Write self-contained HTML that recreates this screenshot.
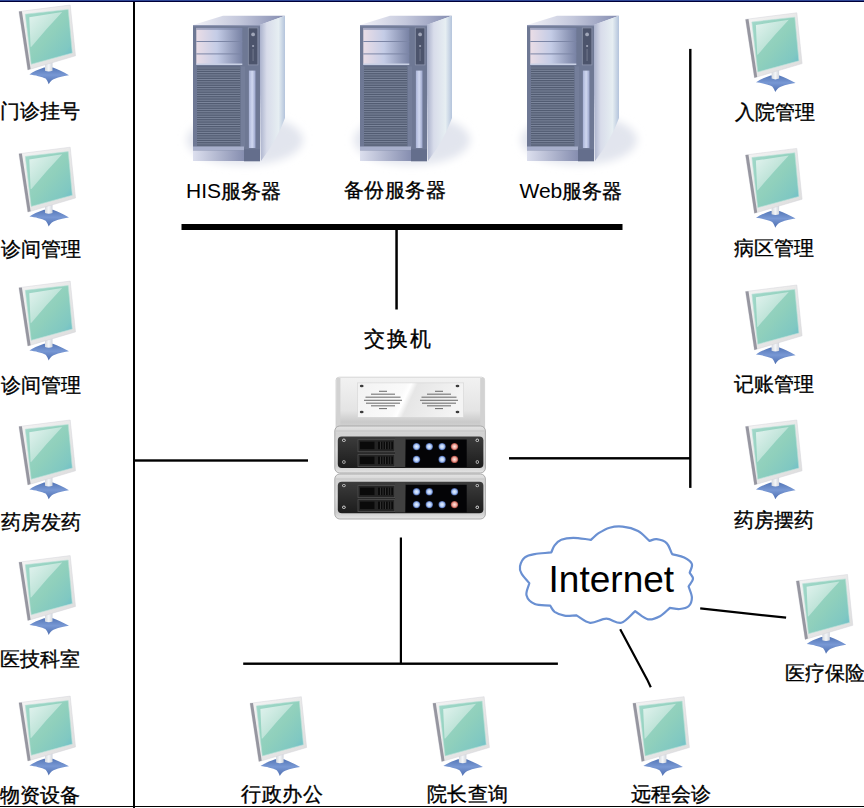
<!DOCTYPE html>
<html><head><meta charset="utf-8">
<style>
html,body{margin:0;padding:0;background:#fff;width:864px;height:808px;overflow:hidden}
svg{position:absolute;left:0;top:0}
text{font-family:"Liberation Sans",sans-serif;fill:#000}
</style></head><body>
<svg width="864" height="808" viewBox="0 0 864 808">
<defs>
<filter id="blur4" x="-30%" y="-50%" width="160%" height="200%"><feGaussianBlur stdDeviation="4"/></filter>
<filter id="blur6" x="-20%" y="-20%" width="140%" height="140%"><feGaussianBlur stdDeviation="6"/></filter>
<linearGradient id="sw_topbox" x1="0" y1="0" x2="0" y2="1">
  <stop offset="0" stop-color="#f2f2f2"/>
  <stop offset="0.6" stop-color="#e4e4e4"/>
  <stop offset="0.8" stop-color="#cacaca"/>
  <stop offset="1" stop-color="#dadada"/>
</linearGradient>
<linearGradient id="sw_plate" x1="0" y1="0" x2="1" y2="0.15">
  <stop offset="0" stop-color="#f2f2f2"/>
  <stop offset="0.45" stop-color="#fafafa"/>
  <stop offset="0.5" stop-color="#ffffff"/>
  <stop offset="0.56" stop-color="#e6e6e6"/>
  <stop offset="1" stop-color="#f4f4f4"/>
</linearGradient>
<linearGradient id="sw_silver" x1="0" y1="0" x2="0" y2="1">
  <stop offset="0" stop-color="#e4e4e4"/>
  <stop offset="0.15" stop-color="#d2d2d2"/>
  <stop offset="0.5" stop-color="#dcdcdc"/>
  <stop offset="0.85" stop-color="#cccccc"/>
  <stop offset="1" stop-color="#e6e6e6"/>
</linearGradient>
<linearGradient id="sw_dark" x1="0" y1="0" x2="0" y2="1">
  <stop offset="0" stop-color="#3c3c3c"/>
  <stop offset="1" stop-color="#1c1c1c"/>
</linearGradient>
<radialGradient id="btn_b" cx="0.5" cy="0.5" r="0.5">
  <stop offset="0" stop-color="#e8f0ff"/>
  <stop offset="0.55" stop-color="#b4ccf4"/>
  <stop offset="0.8" stop-color="#6e8ed0"/>
  <stop offset="1" stop-color="#3a4c80"/>
</radialGradient>
<radialGradient id="btn_r" cx="0.5" cy="0.5" r="0.5">
  <stop offset="0" stop-color="#ffe8e0"/>
  <stop offset="0.55" stop-color="#f0aaa0"/>
  <stop offset="0.8" stop-color="#c86a60"/>
  <stop offset="1" stop-color="#803a34"/>
</radialGradient>

<linearGradient id="scr" x1="0" y1="0" x2="1" y2="1">
  <stop offset="0" stop-color="#a2d8ca"/>
  <stop offset="0.5" stop-color="#90d0bc"/>
  <stop offset="0.8" stop-color="#80c8c2"/>
  <stop offset="1" stop-color="#64b8d0"/>
</linearGradient>
<linearGradient id="hl" x1="0" y1="0" x2="1" y2="1">
  <stop offset="0" stop-color="#ffffff" stop-opacity="0.7"/>
  <stop offset="1" stop-color="#ffffff" stop-opacity="0.12"/>
</linearGradient>
<linearGradient id="bez" x1="0" y1="0" x2="1" y2="1">
  <stop offset="0" stop-color="#f4f4f4"/>
  <stop offset="1" stop-color="#dcdcdc"/>
</linearGradient>
<linearGradient id="neck" x1="0" y1="0" x2="1" y2="0">
  <stop offset="0" stop-color="#d4d8de"/>
  <stop offset="0.5" stop-color="#f4f6f8"/>
  <stop offset="1" stop-color="#d0d4dc"/>
</linearGradient>
<linearGradient id="basg" x1="0" y1="0" x2="0" y2="1">
  <stop offset="0" stop-color="#5678b8"/>
  <stop offset="0.45" stop-color="#7898d4"/>
  <stop offset="1" stop-color="#4e6eb0"/>
</linearGradient>
<g id="mon">
  <path d="M29.4,74.4 C33,72 37.5,69.8 44,67.6 L52.9,67.6 C58,69.5 63,72 69,75.2 C65,75.8 60,76.5 53.5,79.2 C51,80.5 50,82 48.7,84.3 C47.8,82 47,80 45.6,78.6 C42,76.8 35,75 29.4,74.4 Z" fill="url(#basg)"/>
  <path d="M45,61 L52.5,60.5 L52.5,70.8 Q48.8,72.4 45,70.8 Z" fill="url(#neck)"/>
  <path d="M18.9,11.6 L70.2,5.0 L75.5,55.8 L27.8,69.9 Z" fill="url(#bez)" stroke="#d4d4da" stroke-width="0.5"/>
  <path d="M18.9,11.6 L21.9,11.3 L30.6,69.1 L27.8,69.9 Z" fill="#9696a0"/>
  <path d="M25.3,14.2 L68.2,9.4 L72.3,53 L31.2,64.2 Z" fill="url(#scr)" stroke="#b8e0d8" stroke-width="0.6"/>
  <path d="M29.3,17.2 L62.2,12 Q47,28 31.4,46.7 L30.6,46.9 Z" fill="url(#hl)"/>
</g>


<linearGradient id="sv_top" x1="0" y1="0" x2="1" y2="0">
  <stop offset="0" stop-color="#f2f2f8"/>
  <stop offset="0.5" stop-color="#c4c8dc"/>
  <stop offset="1" stop-color="#848cb0"/>
</linearGradient>
<linearGradient id="sv_side" x1="0" y1="0" x2="1" y2="0">
  <stop offset="0" stop-color="#a4acc8"/>
  <stop offset="0.3" stop-color="#d8dcea"/>
  <stop offset="0.75" stop-color="#e6eef2"/>
  <stop offset="1" stop-color="#b4c4dc"/>
</linearGradient>
<linearGradient id="sv_side_fade" x1="0" y1="0" x2="0" y2="1">
  <stop offset="0" stop-color="#ffffff" stop-opacity="0"/>
  <stop offset="0.6" stop-color="#ffffff" stop-opacity="0"/>
  <stop offset="1" stop-color="#ffffff" stop-opacity="0.9"/>
</linearGradient>
<linearGradient id="sv_bay" x1="0" y1="0" x2="1" y2="0">
  <stop offset="0" stop-color="#eadde6"/>
  <stop offset="0.45" stop-color="#c4cce6"/>
  <stop offset="1" stop-color="#7882a4"/>
</linearGradient>
<linearGradient id="sv_panel" x1="0" y1="0" x2="1" y2="0">
  <stop offset="0" stop-color="#aab4d8"/>
  <stop offset="0.5" stop-color="#d0d8f0"/>
  <stop offset="1" stop-color="#9ca6cc"/>
</linearGradient>
<linearGradient id="sv_base" x1="0" y1="0" x2="1" y2="0">
  <stop offset="0" stop-color="#dcdfee"/>
  <stop offset="1" stop-color="#868eb0"/>
</linearGradient>
<radialGradient id="sv_glow" cx="0.5" cy="0.5" r="0.5">
  <stop offset="0" stop-color="#dfe4ee"/>
  <stop offset="0.7" stop-color="#eef0f6"/>
  <stop offset="1" stop-color="#ffffff" stop-opacity="0"/>
</radialGradient>
<g id="srv">
  <ellipse cx="245" cy="140" rx="58" ry="25" fill="#e2e5ee" filter="url(#blur4)"/>
  <path d="M193,25 L223,15.8 L285,15.8 L260,25 Z" fill="url(#sv_top)"/>
  <path d="M259,25 L285,15.8 L285,118 Q277,140 261,161 Z" fill="url(#sv_side)"/>
  <rect x="193" y="25" width="67" height="136" fill="#6e7894"/>
  <rect x="193" y="25" width="67" height="1.2" fill="#9098b4"/>
  <rect x="196.3" y="27.9" width="46" height="36.6" fill="url(#sv_bay)"/>
  <rect x="196.3" y="27.9" width="46" height="2" fill="#7c86a8" opacity="0.6"/>
  <rect x="196.3" y="41" width="46" height="1" fill="#7c86a6"/>
  <rect x="196.3" y="53.4" width="46" height="1" fill="#7c86a6"/>
  <rect x="196.3" y="63.5" width="46" height="1.5" fill="#c8d0e4"/>
  <rect x="248.3" y="27.9" width="9.6" height="37" fill="#4c546c" stroke="#8c94ac" stroke-width="0.8"/>
  <circle cx="253.1" cy="34.4" r="1.9" fill="#a0a6b8"/>
  <circle cx="253.1" cy="46" r="1.1" fill="#a0a6b8"/>
  <rect x="252.5" y="49" width="1.2" height="12" fill="#6c7288"/>
  <rect x="197" y="66.5" width="43.2" height="80.5" fill="#525c72"/>
  <rect x="197" y="67.5" width="43.2" height="1" fill="#7c869c"/><rect x="197" y="69.8" width="43.2" height="1" fill="#7c869c"/><rect x="197" y="72.1" width="43.2" height="1" fill="#7c869c"/><rect x="197" y="74.4" width="43.2" height="1" fill="#7c869c"/><rect x="197" y="76.7" width="43.2" height="1" fill="#7c869c"/><rect x="197" y="79.0" width="43.2" height="1" fill="#7c869c"/><rect x="197" y="81.3" width="43.2" height="1" fill="#7c869c"/><rect x="197" y="83.6" width="43.2" height="1" fill="#7c869c"/><rect x="197" y="85.9" width="43.2" height="1" fill="#7c869c"/><rect x="197" y="88.2" width="43.2" height="1" fill="#7c869c"/><rect x="197" y="90.5" width="43.2" height="1" fill="#7c869c"/><rect x="197" y="92.8" width="43.2" height="1" fill="#7c869c"/><rect x="197" y="95.1" width="43.2" height="1" fill="#7c869c"/><rect x="197" y="97.4" width="43.2" height="1" fill="#7c869c"/><rect x="197" y="99.7" width="43.2" height="1" fill="#7c869c"/><rect x="197" y="102.0" width="43.2" height="1" fill="#7c869c"/><rect x="197" y="104.3" width="43.2" height="1" fill="#7c869c"/><rect x="197" y="106.6" width="43.2" height="1" fill="#7c869c"/><rect x="197" y="108.9" width="43.2" height="1" fill="#7c869c"/><rect x="197" y="111.2" width="43.2" height="1" fill="#7c869c"/><rect x="197" y="113.5" width="43.2" height="1" fill="#7c869c"/><rect x="197" y="115.8" width="43.2" height="1" fill="#7c869c"/><rect x="197" y="118.1" width="43.2" height="1" fill="#7c869c"/><rect x="197" y="120.4" width="43.2" height="1" fill="#7c869c"/><rect x="197" y="122.7" width="43.2" height="1" fill="#7c869c"/><rect x="197" y="125.0" width="43.2" height="1" fill="#7c869c"/><rect x="197" y="127.3" width="43.2" height="1" fill="#7c869c"/><rect x="197" y="129.6" width="43.2" height="1" fill="#7c869c"/><rect x="197" y="131.9" width="43.2" height="1" fill="#7c869c"/><rect x="197" y="134.2" width="43.2" height="1" fill="#7c869c"/><rect x="197" y="136.5" width="43.2" height="1" fill="#7c869c"/><rect x="197" y="138.8" width="43.2" height="1" fill="#7c869c"/><rect x="197" y="141.1" width="43.2" height="1" fill="#7c869c"/><rect x="197" y="143.4" width="43.2" height="1" fill="#7c869c"/><rect x="197" y="145.7" width="43.2" height="1" fill="#7c869c"/>
  <rect x="241" y="66.5" width="4" height="81" fill="#747e9a"/>
  <rect x="248.9" y="70.6" width="6.6" height="77.4" fill="url(#sv_panel)"/>
  <rect x="193" y="146.5" width="51" height="4" fill="#a8b0cc"/>
  <rect x="193" y="150.5" width="51" height="10.5" fill="url(#sv_base)"/>
  <rect x="244" y="149.4" width="16" height="11.9" fill="#646e8c"/>
</g>

</defs>
<rect x="0" y="0" width="864" height="1" fill="#304898"/>
<rect x="0" y="1" width="864" height="1" fill="#000038"/>
<rect x="133" y="2" width="2" height="806" fill="#000"/>
<rect x="0" y="806" width="864" height="1" fill="#000"/>

<use href="#srv"/>
<use href="#srv" x="167"/>
<use href="#srv" x="334"/>

<rect x="181.5" y="224" width="441" height="6" fill="#000"/>
<rect x="395.3" y="229" width="2.5" height="80.5" fill="#000"/>
<rect x="135" y="459.3" width="173" height="2.4" fill="#000"/>
<rect x="509" y="457.1" width="182" height="2.4" fill="#000"/>
<rect x="689.1" y="48.9" width="2.4" height="439" fill="#000"/>
<rect x="399.8" y="537.5" width="2.2" height="126" fill="#000"/>
<rect x="243.2" y="662.5" width="314.7" height="2.4" fill="#000"/>
<line x1="700.2" y1="608.4" x2="786.1" y2="617.7" stroke="#000" stroke-width="2.2"/>
<polyline points="620.2,629.3 647.1,679.4 650.8,687.3" fill="none" stroke="#000" stroke-width="2.2"/>


<g>
  
  <rect x="336" y="377.2" width="148.6" height="56" rx="3" fill="url(#sw_topbox)" stroke="#cccccc" stroke-width="0.8"/>
  <rect x="336.4" y="378" width="4" height="48" fill="#d2d2d2"/><rect x="480.2" y="378" width="4" height="48" fill="#d2d2d2"/>
  <rect x="357.5" y="382.9" width="106.2" height="34.4" fill="url(#sw_plate)" stroke="#d4d4d4" stroke-width="0.6"/>
  <ellipse cx="361.7" cy="386" rx="1.9" ry="1.2" fill="#3c3c3c"/><ellipse cx="361.7" cy="412" rx="1.9" ry="1.2" fill="#3c3c3c"/><ellipse cx="457.5" cy="386" rx="1.9" ry="1.2" fill="#3c3c3c"/><ellipse cx="457.5" cy="412" rx="1.9" ry="1.2" fill="#3c3c3c"/>
  <rect x="379.0" y="390.8" width="8" height="0.9" fill="#585858"/><rect x="371.0" y="393.7" width="24" height="0.9" fill="#585858"/><rect x="365.5" y="396.7" width="35" height="0.9" fill="#585858"/><rect x="364.0" y="399.8" width="38" height="0.9" fill="#585858"/><rect x="366.0" y="402.7" width="34" height="0.9" fill="#585858"/><rect x="371.0" y="405.4" width="24" height="0.9" fill="#585858"/><rect x="379.0" y="408.2" width="8" height="0.9" fill="#585858"/><rect x="435.0" y="390.8" width="8" height="0.9" fill="#585858"/><rect x="427.0" y="393.7" width="24" height="0.9" fill="#585858"/><rect x="421.5" y="396.7" width="35" height="0.9" fill="#585858"/><rect x="420.0" y="399.8" width="38" height="0.9" fill="#585858"/><rect x="422.0" y="402.7" width="34" height="0.9" fill="#585858"/><rect x="427.0" y="405.4" width="24" height="0.9" fill="#585858"/><rect x="435.0" y="408.2" width="8" height="0.9" fill="#585858"/>
  <rect x="334.8" y="426" width="150.6" height="47" rx="5" fill="url(#sw_silver)" stroke="#a4a4a4" stroke-width="0.9"/><rect x="335.5" y="430.5" width="149" height="1" fill="#c4c4c4"/><rect x="337.8" y="436.5" width="145.6" height="31.5" rx="4" fill="url(#sw_dark)"/><circle cx="343.9" cy="440.3" r="1.7" fill="#d0d0d0"/><circle cx="343.9" cy="440.3" r="0.9" fill="#202020"/><circle cx="343.9" cy="462.0" r="1.7" fill="#d0d0d0"/><circle cx="343.9" cy="462.0" r="0.9" fill="#202020"/><circle cx="477.3" cy="440.3" r="1.7" fill="#d0d0d0"/><circle cx="477.3" cy="440.3" r="0.9" fill="#202020"/><circle cx="477.3" cy="462.0" r="1.7" fill="#d0d0d0"/><circle cx="477.3" cy="462.0" r="0.9" fill="#202020"/><rect x="358" y="439.7" width="36.8" height="12" fill="#242424" stroke="#505050" stroke-width="0.8"/><rect x="360" y="441.7" width="14.5" height="7.5" fill="#0a0a0a"/><rect x="378" y="441.7" width="15" height="7.5" fill="#0a0a0a"/><rect x="380.0" y="441.7" width="0.8" height="7.5" fill="#3a3a3a"/><rect x="382.6" y="441.7" width="0.8" height="7.5" fill="#3a3a3a"/><rect x="385.2" y="441.7" width="0.8" height="7.5" fill="#3a3a3a"/><rect x="387.8" y="441.7" width="0.8" height="7.5" fill="#3a3a3a"/><rect x="390.4" y="441.7" width="0.8" height="7.5" fill="#3a3a3a"/><rect x="358" y="454.6" width="36.8" height="12" fill="#242424" stroke="#505050" stroke-width="0.8"/><rect x="360" y="456.6" width="14.5" height="7.5" fill="#0a0a0a"/><rect x="378" y="456.6" width="15" height="7.5" fill="#0a0a0a"/><rect x="380.0" y="456.6" width="0.8" height="7.5" fill="#3a3a3a"/><rect x="382.6" y="456.6" width="0.8" height="7.5" fill="#3a3a3a"/><rect x="385.2" y="456.6" width="0.8" height="7.5" fill="#3a3a3a"/><rect x="387.8" y="456.6" width="0.8" height="7.5" fill="#3a3a3a"/><rect x="390.4" y="456.6" width="0.8" height="7.5" fill="#3a3a3a"/><rect x="395" y="437.5" width="10" height="29.5" fill="#404040"/><rect x="405.7" y="439.5" width="61" height="27.5" fill="#040406"/><circle cx="416.5" cy="446.6" r="3.7" fill="url(#btn_b)"/><circle cx="429.3" cy="446.6" r="3.7" fill="url(#btn_b)"/><circle cx="442.1" cy="446.6" r="3.7" fill="url(#btn_b)"/><circle cx="454.5" cy="446.6" r="3.7" fill="url(#btn_r)"/><circle cx="416.5" cy="459.4" r="3.7" fill="url(#btn_b)"/><circle cx="442.1" cy="459.4" r="3.7" fill="url(#btn_b)"/><circle cx="454.5" cy="459.4" r="3.7" fill="url(#btn_r)"/>
  <rect x="334.8" y="474" width="150.6" height="45" rx="5" fill="url(#sw_silver)" stroke="#a4a4a4" stroke-width="0.9"/><rect x="335.5" y="478.5" width="149" height="1" fill="#c4c4c4"/><rect x="337.8" y="481.8" width="145.6" height="31.5" rx="4" fill="url(#sw_dark)"/><circle cx="343.9" cy="485.6" r="1.7" fill="#d0d0d0"/><circle cx="343.9" cy="485.6" r="0.9" fill="#202020"/><circle cx="343.9" cy="507.3" r="1.7" fill="#d0d0d0"/><circle cx="343.9" cy="507.3" r="0.9" fill="#202020"/><circle cx="477.3" cy="485.6" r="1.7" fill="#d0d0d0"/><circle cx="477.3" cy="485.6" r="0.9" fill="#202020"/><circle cx="477.3" cy="507.3" r="1.7" fill="#d0d0d0"/><circle cx="477.3" cy="507.3" r="0.9" fill="#202020"/><rect x="358" y="485.6" width="36.8" height="12" fill="#242424" stroke="#505050" stroke-width="0.8"/><rect x="360" y="487.6" width="14.5" height="7.5" fill="#0a0a0a"/><rect x="378" y="487.6" width="15" height="7.5" fill="#0a0a0a"/><rect x="380.0" y="487.6" width="0.8" height="7.5" fill="#3a3a3a"/><rect x="382.6" y="487.6" width="0.8" height="7.5" fill="#3a3a3a"/><rect x="385.2" y="487.6" width="0.8" height="7.5" fill="#3a3a3a"/><rect x="387.8" y="487.6" width="0.8" height="7.5" fill="#3a3a3a"/><rect x="390.4" y="487.6" width="0.8" height="7.5" fill="#3a3a3a"/><rect x="358" y="499.6" width="36.8" height="12" fill="#242424" stroke="#505050" stroke-width="0.8"/><rect x="360" y="501.6" width="14.5" height="7.5" fill="#0a0a0a"/><rect x="378" y="501.6" width="15" height="7.5" fill="#0a0a0a"/><rect x="380.0" y="501.6" width="0.8" height="7.5" fill="#3a3a3a"/><rect x="382.6" y="501.6" width="0.8" height="7.5" fill="#3a3a3a"/><rect x="385.2" y="501.6" width="0.8" height="7.5" fill="#3a3a3a"/><rect x="387.8" y="501.6" width="0.8" height="7.5" fill="#3a3a3a"/><rect x="390.4" y="501.6" width="0.8" height="7.5" fill="#3a3a3a"/><rect x="395" y="482.8" width="10" height="29.5" fill="#404040"/><rect x="405.7" y="484.8" width="61" height="27.5" fill="#040406"/><circle cx="416.5" cy="491.8" r="3.7" fill="url(#btn_b)"/><circle cx="429.3" cy="491.8" r="3.7" fill="url(#btn_b)"/><circle cx="454.5" cy="491.8" r="3.7" fill="url(#btn_b)"/><circle cx="416.5" cy="504.6" r="3.7" fill="url(#btn_b)"/><circle cx="429.3" cy="504.6" r="3.7" fill="url(#btn_b)"/><circle cx="442.1" cy="504.6" r="3.7" fill="url(#btn_b)"/><circle cx="454.5" cy="504.6" r="3.7" fill="url(#btn_r)"/>
</g>


<path d="M551.3,552.4 C545.8,553.0 539.2,553.3 534.8,554.1 C530.4,554.9 527.4,555.4 524.9,557.4 C522.4,559.4 520.6,563.5 520.0,566.2 C519.4,568.9 520.0,570.7 521.5,573.5 C523.0,576.3 526.7,580.0 529.3,583.2 C528.4,587.2 525.6,591.8 526.5,595.3 C527.4,598.8 530.8,602.4 534.8,604.1 C538.8,605.8 545.1,605.2 550.2,605.7 C551.7,607.7 552.2,610.1 554.6,611.8 C557.0,613.4 560.9,615.0 564.5,615.6 C568.1,616.2 572.3,615.4 576.2,615.3 C580.8,617.8 585.1,622.2 590.1,622.8 C595.1,623.4 601.1,618.7 606.3,618.7 C611.5,618.7 616.5,624.0 621.3,622.8 C626.1,621.5 630.6,615.1 635.2,611.2 C639.5,613.9 643.9,618.5 648.0,619.3 C652.1,620.1 656.4,618.1 660.0,616.2 C663.6,614.3 666.6,610.7 669.9,607.9 C673.2,608.3 676.7,609.3 679.8,609.0 C682.9,608.7 686.6,608.2 688.6,606.3 C690.6,604.4 691.9,600.8 691.9,597.5 C691.9,594.2 689.7,590.2 688.6,586.5 C690.1,583.9 692.8,581.1 693.0,578.8 C693.2,576.5 690.8,574.8 689.7,572.8 C690.4,569.9 692.8,566.6 691.9,564.0 C691.0,561.4 687.5,559.0 684.2,557.4 C680.9,555.8 676.1,555.2 672.1,554.1 C670.3,550.4 669.2,545.6 666.6,543.1 C664.0,540.6 659.6,539.6 656.7,539.2 C653.9,538.8 651.9,540.3 649.5,540.9 C645.7,537.6 642.5,533.4 638.0,531.0 C633.5,528.6 627.3,527.1 622.6,526.6 C617.9,526.1 613.6,526.6 609.6,527.7 C605.6,528.8 601.7,531.2 598.6,533.2 C595.5,535.2 593.5,537.6 590.9,539.8 C585.0,539.1 578.2,537.8 573.3,537.8 C568.3,537.8 564.3,538.5 561.2,539.8 C558.1,541.0 556.2,543.2 554.6,545.3 C553.0,547.4 552.4,550.0 551.3,552.4 Z" fill="#fff" stroke="#6a90d2" stroke-width="2.2" stroke-linejoin="round"/>
<text x="548.6" y="592" font-size="37">Internet</text>

<use href="#mon" x="0.0" y="0.0"/><use href="#mon" x="0.0" y="142.2"/><use href="#mon" x="0.0" y="276.1"/><use href="#mon" x="0.0" y="415.0"/><use href="#mon" x="0.0" y="550.6"/><use href="#mon" x="0.0" y="691.1"/>
<use href="#mon" x="726.6" y="7.8"/><use href="#mon" x="726.6" y="143.4"/><use href="#mon" x="726.6" y="280.0"/><use href="#mon" x="726.6" y="415.0"/>
<use href="#mon" x="231.1" y="691.7"/><use href="#mon" x="413.9" y="691.7"/><use href="#mon" x="613.9" y="691.7"/><use href="#mon" x="777.3" y="569.5"/>

<g font-size="20" stroke="#000" stroke-width="0.35">
<text x="0" y="117.6">门诊挂号</text>
<text x="0.7" y="255.5">诊间管理</text>
<text x="0.7" y="392.2">诊间管理</text>
<text x="0.5" y="528.5">药房发药</text>
<text x="0" y="665.8">医技科室</text>
<text x="0" y="801.5">物资设备</text>
<text x="735" y="118.5">入院管理</text>
<text x="734" y="254.7">病区管理</text>
<text x="734" y="391">记账管理</text>
<text x="734" y="527">药房摆药</text>
<text x="241" y="801.3" letter-spacing="0.6">行政办公</text>
<text x="426.5" y="801.3" letter-spacing="0.5">院长查询</text>
<text x="631" y="801.1">远程会诊</text>
<text x="784.7" y="680.1">医疗保险</text>
<text x="363.8" y="345.5" font-size="21" letter-spacing="1.9">交换机</text>
<text x="186" y="197.6"><tspan font-size="21" stroke-width="0">HIS</tspan>服务器</text>
<text x="344" y="197.1" letter-spacing="0.4">备份服务器</text>
<text x="519.5" y="197.6"><tspan font-size="21" stroke-width="0">Web</tspan>服务器</text>
</g>
</svg>
</body></html>
